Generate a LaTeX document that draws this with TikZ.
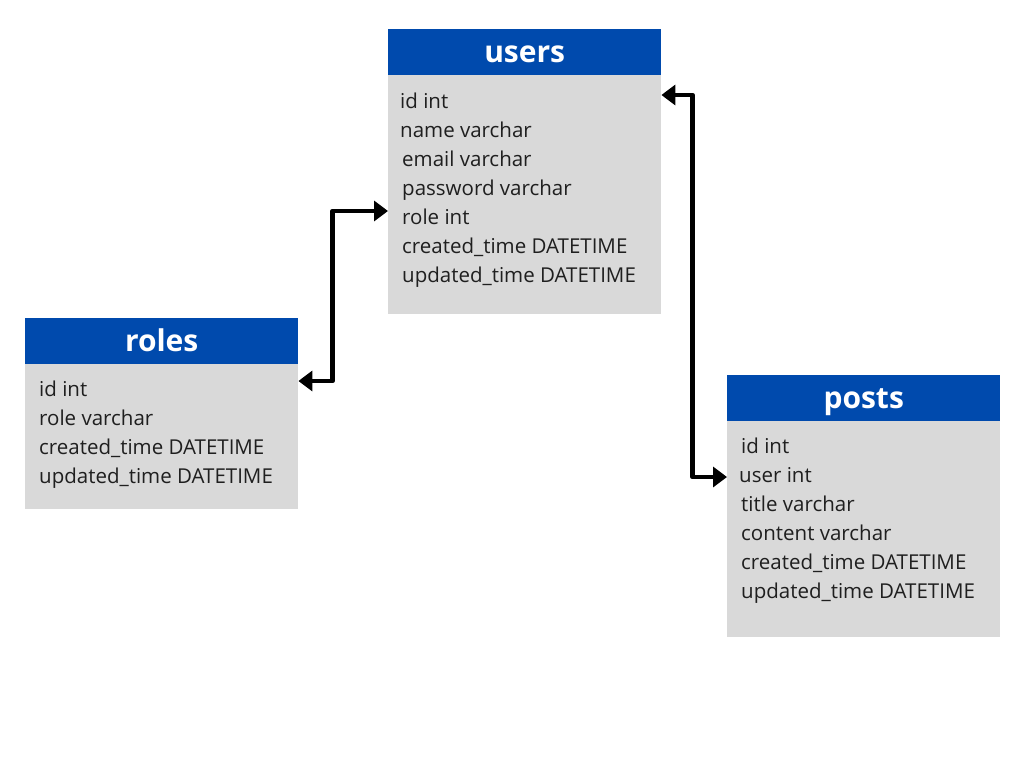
\documentclass[tikz,border=0pt]{standalone}
\usepackage{fontspec}
\setmainfont{Open Sans}
\usetikzlibrary{arrows.meta}
\definecolor{hdblue}{RGB}{0,74,173}
\definecolor{bdgray}{RGB}{217,217,217}

\begin{document}
\begin{tikzpicture}[x=1pt, y=-1pt]
            \tikzset{head/.style = {anchor=north west, fill=hdblue, text=white, inner sep=0,
                minimum width=273pt, minimum height=46pt, text height=21pt, text depth=0pt,
                font=\bfseries\fontsize{30}{36}\selectfont}}
            \tikzset{body/.style = {anchor=north west, fill=bdgray, inner sep=0, minimum width=273pt}}
            \tikzset{field/.style = {anchor=base west, inner sep=0, text=black!88, font=\fontsize{20.5}{24}\selectfont}}
            \tikzset{link/.style = {<->, >={Triangle[length=14pt,width=20pt]}, line width=4.5pt, line join=round}}
            \useasboundingbox[fill=white] (0, 0) rectangle (1024, 768);
            % users
            \node[body, minimum height=239pt] (ubody) at (388, 75) {};
            \node[head] (uhead) at (388, 29) {users};
            \node[field] (uid) at (400, 108) {id int};
            \node[field] (uname) at (400, 137) {name varchar};
            \node[field] (umail) at (402, 166) {email varchar};
            \node[field] (upass) at (402, 195) {password varchar};
            \node[field] (urole) at (402, 224) {role int};
            \node[field] (ucreated) at (402, 253) {created\_time DATETIME};
            \node[field] (uupdated) at (402, 282) {updated\_time DATETIME};
            % roles
            \node[body, minimum height=145pt] (rbody) at (25, 364) {};
            \node[head] (rhead) at (25, 318) {roles};
            \node[field] (rid) at (39, 396) {id int};
            \node[field] (rrole) at (39, 425) {role varchar};
            \node[field] (rcreated) at (39, 454) {created\_time DATETIME};
            \node[field] (rupdated) at (39, 483) {updated\_time DATETIME};
            % posts
            \node[body, minimum height=216pt] (pbody) at (727, 421) {};
            \node[head] (phead) at (727, 375) {posts};
            \node[field] (pid) at (741, 453) {id int};
            \node[field] (puser) at (739, 482) {user int};
            \node[field] (ptitle) at (741, 511) {title varchar};
            \node[field] (pcontent) at (741, 540) {content varchar};
            \node[field] (pcreated) at (741, 569) {created\_time DATETIME};
            \node[field] (pupdated) at (741, 598) {updated\_time DATETIME};
            % links
            \draw[link] ([yshift=-17pt]rbody.north east) -- ++(34, 0) |- ([yshift=-136pt]ubody.north west);
            \draw[link] ([yshift=-20pt]ubody.north east) -- ++(31, 0) |- ([yshift=-56pt]pbody.north west);
          \end{tikzpicture}
\end{document}
